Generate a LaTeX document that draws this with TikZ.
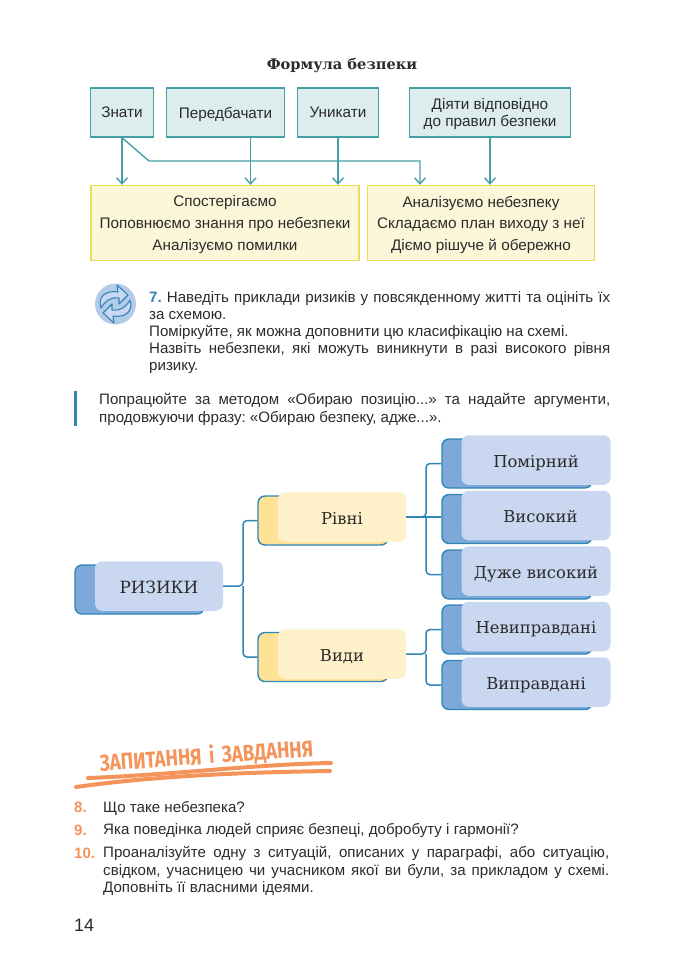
\documentclass[tikz,border=0pt]{standalone}
\usepackage{fontspec}
\setmainfont{Liberation Sans}
\newfontfamily\slabfont{DejaVu Serif}
\newfontfamily\headfont{Fira Sans}
\usetikzlibrary{arrows.meta, positioning}
\definecolor{tealline}{HTML}{45A0A6}
\definecolor{tealfill}{HTML}{DDEDEE}
\definecolor{yelline}{HTML}{EDDC5A}
\definecolor{yelfill}{HTML}{FCF7D9}
\definecolor{linkblue}{HTML}{2F86B4}
\definecolor{backblue}{HTML}{7DA8DA}
\definecolor{frontblue}{HTML}{C9D8F0}
\definecolor{backyel}{HTML}{FFE296}
\definecolor{frontyel}{HTML}{FEF0C8}
\definecolor{peach}{HTML}{F4935A}
\definecolor{inktext}{HTML}{2B2B2B}
\tikzset{
formula/.style={draw=tealline, fill=tealfill, line width=1.4pt, align=center, text=inktext, inner sep=0pt, text depth=0pt, font=\fontsize{15.3}{17}\selectfont}, % top row of the formula
result/.style={draw=yelline, fill=yelfill, line width=1.4pt, align=center, text=inktext, inner sep=0pt, text depth=0pt, font=\fontsize{15.3}{21.6}\selectfont}, % two bottom boxes
flow/.style={-{Straight Barb[length=6pt, width=11pt]}, draw=tealline, line width=1.4pt},
backblue box/.style={draw=linkblue, fill=backblue, line width=1.4pt, rounded corners=7pt, minimum width=150pt, minimum height=49pt, inner sep=0pt},
frontblue box/.style={fill=frontblue, rounded corners=7pt, minimum width=149pt, minimum height=49.5pt, inner sep=0pt, text=inktext, text height=14.6pt, text depth=0pt, font=\slabfont\fontsize{16.4}{18}\selectfont},
backyel box/.style={draw=linkblue, fill=backyel, line width=1.4pt, rounded corners=7pt, minimum width=130pt, minimum height=49pt, inner sep=0pt},
frontyel box/.style={fill=frontyel, rounded corners=7pt, minimum width=128pt, minimum height=49.5pt, inner sep=0pt, text=inktext, text height=14.6pt, text depth=0pt, font=\slabfont\fontsize{16.4}{18}\selectfont},
link/.style={draw=linkblue, line width=1.5pt, rounded corners=4pt},
page text/.style={text=inktext, anchor=north west, inner sep=0pt, align=justify, font=\fontsize{15.1}{17.1}\selectfont\frenchspacing},
number text/.style={text=peach, anchor=north west, inner sep=0pt, text height=11.6pt, font=\bfseries\fontsize{15}{17.1}\selectfont},
}

\begin{document}
\begin{tikzpicture}[x=1pt, y=-1pt]
    \useasboundingbox (0,0) rectangle (681,970);

    % Formula
    \node[text=inktext, font=\slabfont\bfseries\fontsize{14.6}{16}\selectfont] (title) at (342,65) {Формула безпеки};
    \node[formula, minimum width=63pt, minimum height=49pt] (znaty) at (122,112.5) {Знати};
    \node[formula, minimum width=118pt, minimum height=49pt] (peredbachaty) at (225.5,112.5) {Передбачати};
    \node[formula, minimum width=81pt, minimum height=49pt] (unykaty) at (338,112.5) {Уникати};
    \node[formula, minimum width=161pt, minimum height=49pt] (diyaty) at (490,112.5) {Діяти відповідно\\до правил безпеки};
    \node[result, minimum width=268pt, minimum height=75pt] (sposter) at (225,223) {Спостерігаємо\\Поповнюємо знання про небезпеки\\Аналізуємо помилки};
    \node[result, minimum width=227pt, minimum height=75pt] (analiz) at (481,223) {Аналізуємо небезпеку\\Складаємо план виходу з неї\\Діємо рішуче й обережно};
    \coordinate (bend) at (149,161);
    \draw[flow] (znaty.south) -- (znaty.south |- sposter.north);
    \draw[flow] ([xshift=25pt]peredbachaty.south) -- ([xshift=25pt]peredbachaty.south |- sposter.north);
    \draw[flow] (unykaty.south) -- (unykaty.south |- sposter.north);
    \draw[flow] (diyaty.south) -- (diyaty.south |- analiz.north);
    \draw[flow] (znaty.south) -- (bend) -| ([xshift=-61pt]analiz.north);

    % Task 7
    \node[circle, fill=backblue!60, minimum size=41pt, inner sep=0pt] (icon) at (115.5,304) {};
    \draw[draw=linkblue, fill=frontblue, line width=1.1pt, line join=round] (101,308) .. controls (97,296) and (107,290) .. (118,292) -- (117,285) -- (128,295) -- (119,304) -- (119,298) .. controls (110,297) and (105,301) .. (101,308) -- cycle;
    \draw[draw=linkblue, fill=frontblue, line width=1.1pt, line join=round] (130,300) .. controls (134,312) and (124,318) .. (113,316) -- (114,323) -- (103,313) -- (112,304) -- (112,310) .. controls (121,311) and (126,307) .. (130,300) -- cycle;
    \node[page text, text width=461pt] (task) at (149,291) {{\color{linkblue}\bfseries 7.} Наведіть приклади ризиків у повсякденному житті та оцініть їх\linebreak за схемою.\par Поміркуйте, як можна доповнити цю класифікацію на схемі.\par Назвіть небезпеки, які можуть виникнути в разі високого рівня\linebreak ризику.};
    \draw[draw=linkblue, line width=3pt] (75,391) -- (75,426);
    \node[page text, text width=511pt] (method) at (99,393.5) {Попрацюйте за методом «Обираю позицію...» та надайте аргументи,\linebreak продовжуючи фразу: «Обираю безпеку, адже...».};

    % Risks
    \node[backblue box, minimum width=129pt] (rbackzero) at (139.5,589.5) {};
    \node[frontblue box, minimum width=128pt, font=\slabfont\fontsize{16.8}{18}\selectfont] (ryzyky) at (159,586) {РИЗИКИ};
    \node[backyel box] (rivniback) at (323,520.5) {};
    \node[frontyel box] (rivni) at (342,517) {Рівні};
    \node[backyel box] (vydyback) at (323,657) {};
    \node[frontyel box] (vydy) at (342,654) {Види};
    \node[backblue box] (pomback) at (517,463.5) {};
    \node[frontblue box] (pomirnyi) at (536,460) {Помірний};
    \node[backblue box] (vysback) at (517,519) {};
    \node[frontblue box] (vysokyi) at (536,515.5) {\hspace{9pt}Високий};
    \node[backblue box] (duzhback) at (517,574.5) {};
    \node[frontblue box] (duzhe) at (536,571) {Дуже високий};
    \node[backblue box] (nevback) at (517,629.5) {};
    \node[frontblue box] (nevypr) at (536,626.5) {Невиправдані};
    \node[backblue box] (vypback) at (517,685) {};
    \node[frontblue box] (vypr) at (536,682) {Виправдані};
    \coordinate (trunkone) at (243,587);
    \coordinate (trunktwo) at (426,518);
    \coordinate (trunkthree) at (426,655);
    \draw[link] (ryzyky.east) -- (trunkone |- ryzyky.east) |- (rivniback.west);
    \draw[link] (trunkone |- ryzyky.east) |- (vydyback.west);
    \draw[link] (rivni.east) -- (trunktwo |- rivni.east) |- (pomback.west);
    \draw[link] (trunktwo |- rivni.east) |- (duzhback.west);
    \draw[link] (rivni.east) -- (vysback.west |- rivni.east);
    \draw[link] (vydy.east) -- (trunkthree |- vydy.east) |- (nevback.west);
    \draw[link] (trunkthree |- vydy.east) |- (vypback.west);

    % Questions
    \node[text=peach, rotate=4, inner sep=0pt, xscale=.81, font=\headfont\bfseries\fontsize{23}{26}\selectfont] (questions) at (206.5,756.5) {ЗАПИТАННЯ \,і\, ЗАВДАННЯ};
    \draw[draw=peach, line width=4pt, line cap=round] (88,778) .. controls (170,775) and (260,764) .. (331,763);
    \draw[draw=peach, line width=4pt, line cap=round] (76,787) .. controls (160,775) and (260,772) .. (330,771);
    \node[number text] (numeight) at (74,801) {8.};
    \node[page text, align=left] (qeight) at (103,801) {Що таке небезпека?};
    \node[number text] (numnine) at (74,823.5) {9.};
    \node[page text, align=left] (qnine) at (103,823.5) {Яка поведінка людей сприяє безпеці, добробуту і гармонії?};
    \node[number text] (numten) at (74,846.5) {10.};
    \node[page text, text width=506pt] (qten) at (103,846.5) {Проаналізуйте одну з ситуацій, описаних у параграфі, або ситуацію,\linebreak свідком, учасницею чи учасником якої ви були, за прикладом у схемі.\linebreak Доповніть її власними ідеями.};
    \node[text=inktext, font=\fontsize{18}{20}\selectfont, anchor=west, inner sep=0pt] (pagenum) at (74,925) {14};
  \end{tikzpicture}
\end{document}
